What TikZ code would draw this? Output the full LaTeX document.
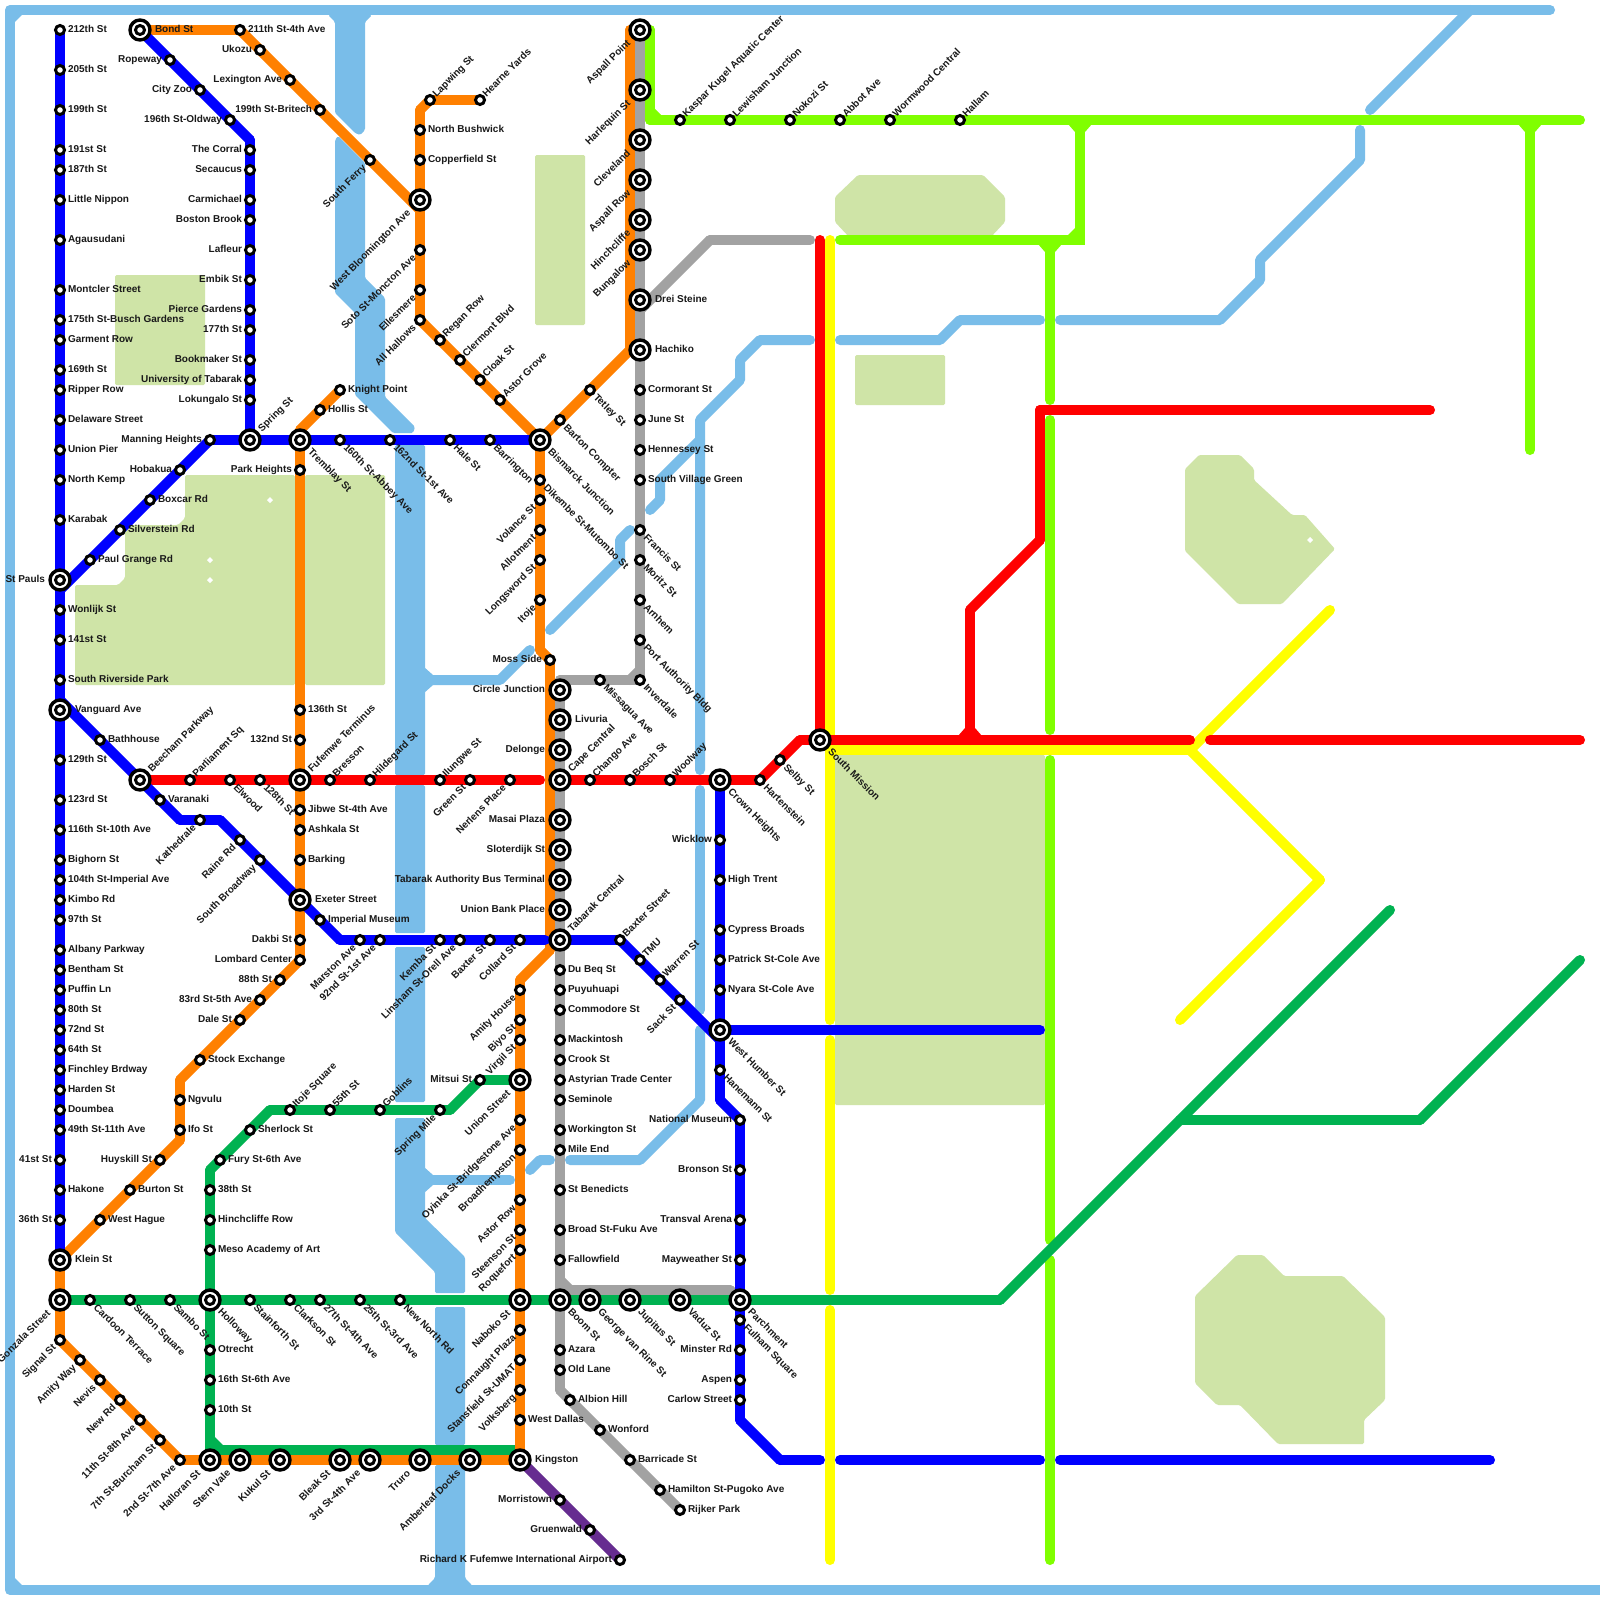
\documentclass[tikz,border=0pt]{standalone}
\usepackage{fontspec}
\setmainfont{Liberation Sans}
\usetikzlibrary{backgrounds}
\pgfdeclarelayer{bg}\pgfdeclarelayer{ln}
\pgfsetlayers{bg,ln,main}
\definecolor{cblue}{HTML}{0000FF}
\definecolor{corange}{HTML}{FF8000}
\definecolor{cred}{HTML}{FF0000}
\definecolor{cyellow}{HTML}{FFFF00}
\definecolor{cgreen}{HTML}{00B251}
\definecolor{clime}{HTML}{80FF00}
\definecolor{cgray}{HTML}{A2A2A2}
\definecolor{cpurple}{HTML}{662C90}
\definecolor{cwater}{HTML}{79BDE9}
\definecolor{cpark}{HTML}{CFE4A7}
\tikzset{
 x=1pt,y=-1pt,
 route/.style={line width=10pt,line cap=round,line join=round},
 stnode/.style={circle,draw=black,fill=white,line width=3pt,minimum size=9pt,inner sep=0pt,outer sep=0pt},
 icnode/.style={circle,draw=black,fill=white,line width=3.4pt,minimum size=20pt,inner sep=0pt,outer sep=0pt},
 lbl/.style={inner sep=0pt,outer sep=0pt,font=\fontsize{10}{11}\selectfont\bfseries,text=black!90},
 pR/.style={xshift=8pt,yshift=-2.2pt,anchor=base west},
 pL/.style={xshift=-8pt,yshift=-2.2pt,anchor=base east},
 pU/.style={xshift=6.5pt,yshift=2.5pt,rotate=45,anchor=base west},
 pD/.style={xshift=3pt,yshift=-8pt,rotate=-45,anchor=base west},
 pB/.style={xshift=-3.5pt,yshift=-8.5pt,rotate=45,anchor=base east},
 iR/.style={xshift=15pt,yshift=-2.2pt,anchor=base west},
 iL/.style={xshift=-15pt,yshift=-2.2pt,anchor=base east},
 iU/.style={xshift=12pt,yshift=7.5pt,rotate=45,anchor=base west},
 iD/.style={xshift=7.5pt,yshift=-12.5pt,rotate=-45,anchor=base west},
 iB/.style={xshift=-9pt,yshift=-14pt,rotate=45,anchor=base east},
 parkfill/.style={fill=cpark,rounded corners=1.5pt},
 waterfill/.style={fill=cwater,rounded corners=1.5pt},
 waterline/.style={route,draw=cwater}
}
\newcommand\stn[5]{\node[stnode] (#1) at (#2,#3) {};\node[lbl,#4] (#1-t) at (#1.center) {#5};}
\newcommand\icn[5]{\node[icnode] (#1) at (#2,#3) {};\node[stnode] (#1-c) at (#1.center) {};\node[lbl,#4] (#1-t) at (#1.center) {#5};}
\newcommand\kk[3]{\coordinate (#1) at (#2,#3);}
\newcommand\chain[2]{\begin{pgfonlayer}{ln}\foreach \cu [remember=\cu as \cv (initially {})] in {#2}{\ifx\cv\empty\else\draw[route,draw=#1] (\cv.center) -- (\cu.center);\fi}\end{pgfonlayer}}
\begin{document}
\begin{tikzpicture}
\useasboundingbox (0,0) rectangle (1600,1600);
% ---------- stations: left blue
\stn{a1}{60}{30}{pR}{212th St}\stn{a2}{60}{70}{pR}{205th St}\stn{a3}{60}{110}{pR}{199th St}\stn{a4}{60}{150}{pR}{191st St}\stn{a5}{60}{170}{pR}{187th St}\stn{a6}{60}{200}{pR}{Little Nippon}\stn{a7}{60}{240}{pR}{Agausudani}\stn{a8}{60}{290}{pR}{Montcler Street}\stn{a9}{60}{320}{pR}{175th St-Busch Gardens}\stn{a10}{60}{340}{pR}{Garment Row}\stn{a11}{60}{370}{pR}{169th St}\stn{a12}{60}{390}{pR}{Ripper Row}\stn{a13}{60}{420}{pR}{Delaware Street}\stn{a14}{60}{450}{pR}{Union Pier}\stn{a15}{60}{480}{pR}{North Kemp}\stn{a16}{60}{520}{pR}{Karabak}
\icn{pauls}{60}{580}{iL}{St Pauls}
\stn{a18}{60}{610}{pR}{Wonlijk St}\stn{a19}{60}{640}{pR}{141st St}\stn{a20}{60}{680}{pR}{South Riverside Park}
\icn{vang}{60}{710}{iR}{Vanguard Ave}
\stn{a22}{60}{760}{pR}{129th St}\stn{a23}{60}{800}{pR}{123rd St}\stn{a24}{60}{830}{pR}{116th St-10th Ave}\stn{a25}{60}{860}{pR}{Bighorn St}\stn{a26}{60}{880}{pR}{104th St-Imperial Ave}\stn{a27}{60}{900}{pR}{Kimbo Rd}\stn{a28}{60}{920}{pR}{97th St}\stn{a29}{60}{950}{pR}{Albany Parkway}\stn{a30}{60}{970}{pR}{Bentham St}\stn{a31}{60}{990}{pR}{Puffin Ln}\stn{a32}{60}{1010}{pR}{80th St}\stn{a33}{60}{1030}{pR}{72nd St}\stn{a34}{60}{1050}{pR}{64th St}\stn{a35}{60}{1070}{pR}{Finchley Brdway}\stn{a36}{60}{1090}{pR}{Harden St}\stn{a37}{60}{1110}{pR}{Doumbea}\stn{a38}{60}{1130}{pR}{49th St-11th Ave}\stn{a39}{60}{1160}{pL}{41st St}\stn{a40}{60}{1190}{pR}{Hakone}\stn{a41}{60}{1220}{pL}{36th St}
\icn{klein}{60}{1260}{iR}{Klein St}
% blue 2
\icn{bond}{140}{30}{iR}{Bond St}
\stn{b1}{170}{60}{pL}{Ropeway}\stn{b2}{200}{90}{pL}{City Zoo}\stn{b3}{230}{120}{pL}{196th St-Oldway}
\stn{b4}{250}{150}{pL}{The Corral}\stn{b5}{250}{170}{pL}{Secaucus}\stn{b6}{250}{200}{pL}{Carmichael}\stn{b7}{250}{220}{pL}{Boston Brook}\stn{b8}{250}{250}{pL}{Lafleur}\stn{b9}{250}{280}{pL}{Embik St}\stn{b10}{250}{310}{pL}{Pierce Gardens}\stn{b11}{250}{330}{pL}{177th St}\stn{b12}{250}{360}{pL}{Bookmaker St}\stn{b13}{250}{380}{pL}{University of Tabarak}\stn{b14}{250}{400}{pL}{Lokungalo St}
\icn{spring}{250}{440}{iU}{Spring St}
% blue 3
\stn{c1}{90}{560}{pR}{Paul Grange Rd}\stn{c2}{120}{530}{pR}{Silverstein Rd}\stn{c3}{150}{500}{pR}{Boxcar Rd}\stn{c4}{180}{470}{pL}{Hobakua}\stn{c5}{210}{440}{pL}{Manning Heights}
\icn{trem}{300}{440}{iD}{Tremblay St}
\stn{c6}{340}{440}{pD}{160th St-Abbey Ave}\stn{c7}{390}{440}{pD}{162nd St-1st Ave}\stn{c8}{450}{440}{pD}{Hale St}\stn{c9}{490}{440}{pD}{Barrington}
\icn{bism}{540}{440}{iD}{Bismarck Junction}
% blue 4
\stn{d1}{100}{740}{pR}{Bathhouse}
\icn{beech}{140}{780}{iU}{Beecham Parkway}
\stn{d2}{160}{800}{pR}{Varanaki}\stn{d3}{200}{820}{pB}{Kathedrale}\stn{d4}{240}{840}{pB}{Raine Rd}\stn{d5}{260}{860}{pB}{South Broadway}
\icn{exeter}{300}{900}{iR}{Exeter Street}
\stn{d6}{320}{920}{pR}{Imperial Museum}\stn{d7}{360}{940}{pB}{Marston Ave}\stn{d8}{380}{940}{pB}{92nd St-1st Ave}\stn{d9}{440}{940}{pB}{Kemba St}\stn{d10}{460}{940}{pB}{Linsham St-Orell Ave}\stn{d11}{490}{940}{pB}{Baxter St}\stn{d12}{520}{940}{pB}{Collard St}
\icn{tabc}{560}{940}{iU}{Tabarak Central}
\stn{e1}{620}{940}{pU}{Baxter Street}\stn{e2}{640}{960}{pU}{TMU}\stn{e3}{660}{980}{pU}{Warren St}\stn{e4}{680}{1000}{pB}{Sack St}
\icn{humber}{720}{1030}{iD}{West Humber St}
% blue 5
\icn{crown}{720}{780}{iD}{Crown Heights}
\stn{f1}{720}{840}{pL}{Wicklow}\stn{f2}{720}{880}{pR}{High Trent}\stn{f3}{720}{930}{pR}{Cypress Broads}\stn{f4}{720}{960}{pR}{Patrick St-Cole Ave}\stn{f5}{720}{990}{pR}{Nyara St-Cole Ave}\stn{f6}{720}{1070}{pD}{Hanemann St}
\stn{f7}{740}{1120}{pL}{National Museum}\stn{f8}{740}{1170}{pL}{Bronson St}\stn{f9}{740}{1220}{pL}{Transval Arena}\stn{f10}{740}{1260}{pL}{Mayweather St}
\icn{parch}{740}{1300}{iD}{Parchment}
\stn{f11}{740}{1320}{pD}{Fulham Square}\stn{f12}{740}{1350}{pL}{Minster Rd}\stn{f13}{740}{1380}{pL}{Aspen}\stn{f14}{740}{1400}{pL}{Carlow Street}
% orange upper
\stn{g1}{240}{30}{pR}{211th St-4th Ave}\stn{g2}{260}{50}{pL}{Ukozu}\stn{g3}{290}{80}{pL}{Lexington Ave}\stn{g4}{320}{110}{pL}{199th St-Britech}\stn{g5}{370}{160}{pB}{South Ferry}
\icn{wblo}{420}{200}{iB}{West Bloomington Ave}
\stn{g6}{430}{100}{pU}{Lapwing St}\stn{g7}{480}{100}{pU}{Hearne Yards}\stn{g8}{420}{130}{pR}{North Bushwick}\stn{g9}{420}{160}{pR}{Copperfield St}\stn{g10}{420}{250}{pB}{Soto St-Moncton Ave}\stn{g11}{420}{290}{pB}{Ellesmere}\stn{g12}{420}{320}{pB}{All Hallows}\stn{g13}{440}{340}{pU}{Regan Row}\stn{g14}{460}{360}{pU}{Clermont Blvd}\stn{g15}{480}{380}{pU}{Cloak St}\stn{g16}{500}{400}{pU}{Astor Grove}
\stn{h1}{560}{420}{pD}{Barton Compter}\stn{h2}{590}{390}{pD}{Tetley St}
\icn{aspp}{640}{30}{iB}{Aspall Point}\icn{harl}{640}{90}{iB}{Harlequin St}\icn{clev}{640}{140}{iB}{Cleveland}\icn{aspr}{640}{180}{iB}{Aspall Row}\icn{hinc}{640}{220}{iB}{Hinchcliffe}\icn{bung}{640}{250}{iB}{Bungalow}\icn{drei}{640}{300}{iR}{Drei Steine}\icn{hach}{640}{350}{iR}{Hachiko}
\stn{h3}{640}{390}{pR}{Cormorant St}\stn{h4}{640}{420}{pR}{June St}\stn{h5}{640}{450}{pR}{Hennessey St}\stn{h6}{640}{480}{pR}{South Village Green}\stn{h7}{640}{530}{pD}{Francis St}\stn{h8}{640}{560}{pD}{Moritz St}\stn{h9}{640}{600}{pD}{Arnhem}\stn{h10}{640}{640}{pD}{Port Authority Bldg}\stn{h11}{640}{680}{pD}{Inverdale}\stn{h12}{600}{680}{pD}{Missagua Ave}
% centre column
\stn{i1}{540}{480}{pD}{Dikembe St-Mutombo St}\stn{i2}{540}{500}{pB}{Volance St}\stn{i3}{540}{530}{pB}{Allotment}\stn{i4}{540}{560}{pB}{Longsword St}\stn{i5}{540}{600}{pB}{Itoje}\stn{i6}{550}{660}{pL}{Moss Side}
\icn{circ}{560}{690}{iL}{Circle Junction}\icn{livu}{560}{720}{iR}{Livuria}\icn{delo}{560}{750}{iL}{Delonge}\icn{cape}{560}{780}{iU}{Cape Central}\icn{masa}{560}{820}{iL}{Masai Plaza}\icn{slot}{560}{850}{iL}{Sloterdijk St}\icn{tbus}{560}{880}{iL}{Tabarak Authority Bus Terminal}\icn{ubp}{560}{910}{iL}{Union Bank Place}
\stn{j1}{560}{970}{pR}{Du Beq St}\stn{j2}{560}{990}{pR}{Puyuhuapi}\stn{j3}{560}{1010}{pR}{Commodore St}\stn{j4}{560}{1040}{pR}{Mackintosh}\stn{j5}{560}{1060}{pR}{Crook St}\stn{j6}{560}{1080}{pR}{Astyrian Trade Center}\stn{j7}{560}{1100}{pR}{Seminole}\stn{j8}{560}{1130}{pR}{Workington St}\stn{j9}{560}{1150}{pR}{Mile End}\stn{j10}{560}{1190}{pR}{St Benedicts}\stn{j11}{560}{1230}{pR}{Broad St-Fuku Ave}\stn{j12}{560}{1260}{pR}{Fallowfield}
\icn{boom}{560}{1300}{iD}{Boom St}
\stn{j13}{560}{1350}{pR}{Azara}\stn{j14}{560}{1370}{pR}{Old Lane}\stn{j15}{570}{1400}{pR}{Albion Hill}\stn{j16}{600}{1430}{pR}{Wonford}\stn{j17}{630}{1460}{pR}{Barricade St}\stn{j18}{660}{1490}{pR}{Hamilton St-Pugoko Ave}\stn{j19}{680}{1510}{pR}{Rijker Park}
\icn{gvr}{590}{1300}{iD}{George van Rine St}\icn{jupi}{630}{1300}{iD}{Jupitus St}\icn{vadu}{680}{1300}{iD}{Vaduz St}
% orange lower centre
\stn{l1}{520}{990}{pB}{Amity House}\stn{l2}{520}{1020}{pB}{Biyo St}\stn{l3}{520}{1040}{pB}{Virgil St}
\icn{unis}{520}{1080}{iB}{Union Street}
\stn{l4}{520}{1120}{pB}{Oyinka St-Bridgestone Ave}\stn{l5}{520}{1150}{pB}{Broadhempston}\stn{l6}{520}{1200}{pB}{Astor Row}\stn{l7}{520}{1230}{pB}{Steenson St}\stn{l8}{520}{1250}{pB}{Roquefort}
\icn{nabo}{520}{1300}{iB}{Naboko St}
\stn{l9}{520}{1330}{pB}{Connaught Plaza}\stn{l10}{520}{1360}{pB}{Stansfield St-UMAT}\stn{l11}{520}{1390}{pB}{Volksberg}\stn{l12}{520}{1420}{pR}{West Dallas}
\icn{king}{520}{1460}{iR}{Kingston}
\stn{m1}{560}{1500}{pL}{Morristown}\stn{m2}{590}{1530}{pL}{Gruenwald}\stn{m3}{620}{1560}{pL}{Richard K Fufemwe International Airport}
% orange vertical 300
\stn{n1}{320}{410}{pR}{Hollis St}\stn{n2}{340}{390}{pR}{Knight Point}\stn{n3}{300}{470}{pL}{Park Heights}\stn{n4}{300}{710}{pR}{136th St}\stn{n5}{300}{740}{pL}{132nd St}
\icn{fufe}{300}{780}{iU}{Fufemwe Terminus}
\stn{n6}{300}{810}{pR}{Jibwe St-4th Ave}\stn{n7}{300}{830}{pR}{Ashkala St}\stn{n8}{300}{860}{pR}{Barking}\stn{n9}{300}{940}{pL}{Dakbi St}\stn{n10}{300}{960}{pL}{Lombard Center}\stn{n11}{280}{980}{pL}{88th St}\stn{n12}{260}{1000}{pL}{83rd St-5th Ave}\stn{n13}{240}{1020}{pL}{Dale St}\stn{n14}{200}{1060}{pR}{Stock Exchange}\stn{n15}{180}{1100}{pR}{Ngvulu}\stn{n16}{180}{1130}{pR}{Ifo St}\stn{n17}{160}{1160}{pL}{Huyskill St}\stn{n18}{130}{1190}{pR}{Burton St}\stn{n19}{100}{1220}{pR}{West Hague}
\icn{gonz}{60}{1300}{iB}{Gonzala Street}
\stn{o1}{60}{1340}{pB}{Signal St}\stn{o2}{80}{1360}{pB}{Amity Way}\stn{o3}{100}{1380}{pB}{Nevis}\stn{o4}{120}{1400}{pB}{New Rd}\stn{o5}{140}{1420}{pB}{11th St-8th Ave}\stn{o6}{160}{1440}{pB}{7th St-Burcham St}\stn{o7}{180}{1460}{pB}{2nd St-7th Ave}
\icn{hall}{210}{1460}{iB}{Halloran St}\icn{ster}{240}{1460}{iB}{Stern Vale}\icn{kuku}{280}{1460}{iB}{Kukul St}\icn{blea}{340}{1460}{iB}{Bleak St}\icn{thrd}{370}{1460}{iB}{3rd St-4th Ave}\icn{trur}{420}{1460}{iB}{Truro}\icn{ambe}{470}{1460}{iB}{Amberleaf Docks}
% red
\stn{r1}{190}{780}{pU}{Parliament Sq}\stn{r2}{230}{780}{pD}{Elwood}\stn{r3}{260}{780}{pD}{128th St}\stn{r4}{330}{780}{pU}{Bresson}\stn{r5}{370}{780}{pU}{Hildegard St}\stn{r6}{440}{780}{pU}{Ilungwe St}\stn{r7}{470}{780}{pB}{Green St}\stn{r8}{510}{780}{pB}{Nerlens Place}\stn{r9}{590}{780}{pU}{Chango Ave}\stn{r10}{630}{780}{pU}{Bosch St}\stn{r11}{670}{780}{pU}{Woolway}\stn{r12}{760}{780}{pD}{Hartenstein}\stn{r13}{780}{760}{pD}{Selby St}
\icn{smis}{820}{740}{iD}{South Mission}
% green
\stn{s1}{90}{1300}{pD}{Cardoon Terrace}\stn{s2}{130}{1300}{pD}{Sutton Square}\stn{s3}{170}{1300}{pD}{Sambo St}
\icn{holl}{210}{1300}{iD}{Holloway}
\stn{s4}{250}{1300}{pD}{Stainforth St}\stn{s5}{290}{1300}{pD}{Clarkson St}\stn{s6}{320}{1300}{pD}{27th St-4th Ave}\stn{s7}{360}{1300}{pD}{25th St-3rd Ave}\stn{s8}{400}{1300}{pD}{New North Rd}
\stn{u1}{210}{1350}{pR}{Otrecht}\stn{u2}{210}{1380}{pR}{16th St-6th Ave}\stn{u3}{210}{1410}{pR}{10th St}
\stn{u4}{210}{1250}{pR}{Meso Academy of Art}\stn{u5}{210}{1220}{pR}{Hinchcliffe Row}\stn{u6}{210}{1190}{pR}{38th St}\stn{u7}{220}{1160}{pR}{Fury St-6th Ave}\stn{u8}{250}{1130}{pR}{Sherlock St}\stn{u9}{290}{1110}{pU}{Itoje Square}\stn{u10}{330}{1110}{pU}{55th St}\stn{u11}{380}{1110}{pU}{Goblins}\stn{u12}{440}{1110}{pB}{Spring Mile}\stn{u13}{480}{1080}{pL}{Mitsui St}
% lime
\stn{v1}{680}{120}{pU}{Kaspar Kugel Aquatic Center}\stn{v2}{730}{120}{pU}{Lewisham Junction}\stn{v3}{790}{120}{pU}{Nokozi St}\stn{v4}{840}{120}{pU}{Abbot Ave}\stn{v5}{890}{120}{pU}{Wormwood Central}\stn{v6}{960}{120}{pU}{Hallam}
% ---------- bends and free ends
\kk{ka1}{250}{140}\kk{ka2}{180}{820}\kk{ka3}{220}{820}\kk{ka4}{340}{940}\kk{ka5}{545}{940}
\kk{kz1}{60}{590}\kk{kz2}{60}{700}\kk{kz3}{420}{210}\kk{kz4}{720}{1040}
\kk{kb1}{720}{1100}\kk{kb2}{740}{1420}\kk{kb3}{780}{1460}\kk{kb4}{820}{1460}\kk{kb5}{840}{1460}\kk{kb6}{1040}{1460}\kk{kb7}{1060}{1460}\kk{kb8}{1490}{1460}\kk{kb9}{1040}{1030}
\kk{kc1}{420}{110}\kk{kc2}{630}{350}\kk{kc3}{630}{30}\kk{kc4}{540}{650}\kk{kc5}{550}{950}\kk{kc6}{520}{980}\kk{kc7}{300}{430}\kk{kc8}{180}{1080}\kk{kc9}{180}{1140}
\kk{kd1}{640}{310}\kk{kd2}{710}{240}\kk{kd3}{810}{240}\kk{kd4}{560}{680}\kk{kd5}{560}{1280}\kk{kd6}{570}{1290}\kk{kd7}{730}{1290}\kk{kd8}{560}{1390}\kk{kd9}{640}{670}\kk{kd10}{630}{680}
\kk{ke1}{540}{780}\kk{ke2}{800}{740}\kk{ke3}{1190}{740}\kk{ke4}{1210}{740}\kk{ke5}{1580}{740}\kk{ke6}{820}{240}\kk{ke7}{970}{740}\kk{ke8}{970}{610}\kk{ke9}{1040}{540}\kk{ke10}{1040}{410}\kk{ke11}{1430}{410}
\kk{kf1}{830}{240}\kk{kf2}{830}{1020}\kk{kf3}{830}{1040}\kk{kf4}{830}{1290}\kk{kf5}{830}{1310}\kk{kf6}{830}{1560}\kk{kf7}{830}{750}\kk{kf8}{1190}{750}\kk{kf9}{1330}{610}\kk{kf10}{1320}{880}\kk{kf11}{1180}{1020}
\kk{kg1}{1000}{1300}\kk{kg2}{1180}{1120}\kk{kg3}{1420}{1120}\kk{kg4}{1580}{960}\kk{kg5}{1390}{910}\kk{kg6}{210}{1170}\kk{kg7}{270}{1110}\kk{kg8}{450}{1110}\kk{kg9}{210}{1450}\kk{kg10}{515}{1450}
\kk{kh1}{650}{30}\kk{kh2}{650}{120}\kk{kh3}{1580}{120}\kk{kh4}{1080}{120}\kk{kh5}{1080}{240}\kk{kh6}{840}{240}\kk{kh7}{1050}{240}\kk{kh8}{1050}{400}\kk{kh9}{1050}{420}\kk{kh10}{1050}{730}\kk{kh11}{1050}{760}\kk{kh12}{1050}{1240}\kk{kh13}{1050}{1260}\kk{kh14}{1050}{1560}\kk{kh15}{1530}{120}\kk{kh16}{1530}{450}
% ---------- parks and water
\begin{pgfonlayer}{bg}
\fill[white] (0,0) rectangle (1600,1600);
\fill[parkfill] (115,275) rectangle (205,385);
\fill[parkfill] (185,475)--(295,475)--(295,685)--(75,685)--(75,585)--(118,585)--(125,578)--(125,525)--(178,525)--(185,518)--cycle;
\fill[parkfill] (305,475) rectangle (385,685);
\fill[parkfill] (535,155) rectangle (585,325);
\fill[parkfill] (835,197)--(858,175)--(983,175)--(1005,197)--(1005,222)--(990,238)--(850,238)--(835,222)--cycle;
\fill[parkfill] (855,355) rectangle (945,405);
\fill[parkfill] (835,755) rectangle (1045,1105);
\fill[parkfill] (1185,469)--(1199,455)--(1240,455)--(1254,469)--(1254,480)--(1292,515)--(1305,515)--(1335,549)--(1282,604)--(1238,604)--(1185,551)--cycle;
\fill[parkfill] (1195,1296)--(1237,1255)--(1263,1255)--(1284,1276)--(1343,1276)--(1385,1317)--(1385,1400)--(1364,1420)--(1364,1444)--(1278,1444)--(1240,1405)--(1217,1405)--(1195,1383)--cycle;
\foreach \px/\py in {270/500,210/560,210/580,1310/540}{\fill[white] (\px-3,\py)--(\px,\py-3)--(\px+3,\py)--(\px,\py+3)--cycle;}
% frame
\draw[waterline] (1550,10)--(10,10)--(10,1590)--(1605,1590);
\fill[cwater] (15,15)--(22,15)--(15,22)--cycle (15,1585)--(22,1585)--(15,1578)--cycle;
% river
\fill[waterfill] (328,15)--(335,22)--(335,113)--(355,133)--(360,135)--(365,130)--(365,22)--(372,15)--cycle;
\fill[waterfill] (338,136)--(365,163)--(365,278)--(385,298)--(385,397)--(415,427)--(413,433)--(393,433)--(355,395)--(355,313)--(335,293)--(335,140)--cycle;
\fill[waterfill] (395,445) rectangle (425,775);
\fill[waterfill] (395,785) rectangle (425,933);
\fill[waterfill] (395,947) rectangle (425,1102);
\fill[waterfill] (395,1118)--(425,1118)--(425,1218)--(465,1257)--(465,1293)--(435,1293)--(435,1272)--(395,1232)--cycle;
\fill[waterfill] (435,1307) rectangle (465,1445);
\fill[waterfill] (435,1465)--(465,1465)--(465,1578)--(472,1585)--(472,1592)--(428,1592)--(428,1585)--(435,1578)--cycle;
\fill[cwater] (424,667)--(433,675)--(433,685)--(424,693)--cycle;
\fill[cwater] (424,1167)--(433,1175)--(433,1185)--(424,1193)--cycle;
\draw[waterline] (420,680)--(500,680)--(530,650);
\draw[waterline] (420,1180)--(510,1180);
\draw[waterline] (530,1170)--(540,1160)--(550,1160);
\draw[waterline] (570,1160)--(640,1160)--(700,1100)--(700,1030);
\draw[waterline] (700,1010)--(700,790);
\draw[waterline] (700,770)--(700,420)--(740,380)--(740,360)--(760,340)--(810,340);
\draw[waterline] (700,440)--(660,480)--(660,500)--(650,510);
\draw[waterline] (630,530)--(620,540)--(620,560)--(550,630);
\draw[waterline] (840,340)--(940,340)--(960,320)--(1040,320);
\draw[waterline] (1060,320)--(1220,320)--(1260,280)--(1260,260)--(1360,160)--(1360,130);
\draw[waterline] (1370,110)--(1470,10);
\end{pgfonlayer}
% ---------- routes
\chain{cgray}{aspp,harl,clev,aspr,hinc,bung,drei,hach,h3,h4,h5,h6,h7,h8,h9,h10,h11,h12,kd4}
\chain{cgray}{kd9,kd10}
\chain{cgray}{kd1,kd2,kd3}
\chain{cgray}{kd4,circ,livu,delo,cape,masa,slot,tbus,ubp,tabc,j1,j2,j3,j4,j5,j6,j7,j8,j9,j10,j11,j12,boom,j13,j14,kd8,j15,j16,j17,j18,j19}
\chain{cgray}{kd5,kd6,kd7,parch}
\chain{cgreen}{hall,kg9,kg10}
\chain{corange}{bond,g1,g2,g3,g4,g5,kz3,wblo}
\chain{corange}{g7,g6,kc1,g8,g9,wblo,g10,g11,g12,g13,g14,g15,g16,bism}
\chain{corange}{bism,h1,h2,kc2,kc3,aspp}
\chain{corange}{bism,i1,i2,i3,i4,i5,kc4,i6,kc5,kc6,l1,l2,l3,unis,l4,l5,l6,l7,l8,nabo,l9,l10,l11,l12,king}
\chain{corange}{n2,n1,kc7,trem,n3,n4,n5,fufe,n6,n7,n8,exeter,n9,n10,n11,n12,n13,n14,kc8,n15,n16,kc9,n17,n18,n19,klein,gonz,o1,o2,o3,o4,o5,o6,o7,hall,ster,kuku,blea,thrd,trur,ambe,king}
\chain{cpurple}{king,m1,m2,m3}
\chain{clime}{aspp,kh1,kh2,v1,v2,v3,v4,v5,v6,kh3}
\chain{clime}{kh4,kh5,kh6}
\chain{clime}{kh7,kh8}\chain{clime}{kh9,kh10}\chain{clime}{kh11,kh12}\chain{clime}{kh13,kh14}
\chain{clime}{kh15,kh16}
\chain{cyellow}{kf1,kf2}\chain{cyellow}{kf3,kf4}\chain{cyellow}{kf5,kf6}
\chain{cyellow}{kf7,kf8,kf9}\chain{cyellow}{kf8,kf10,kf11}
\chain{cred}{beech,r1,r2,r3,fufe,r4,r5,r6,r7,r8,ke1}
\chain{cred}{cape,r9,r10,r11,crown,r12,r13,ke2,smis,ke3}
\chain{cred}{ke4,ke5}\chain{cred}{smis,ke6}
\chain{cred}{ke7,ke8,ke9,ke10,ke11}
\chain{cblue}{a1,a2,a3,a4,a5,a6,a7,a8,a9,a10,a11,a12,a13,a14,a15,a16,pauls,a18,a19,a20,vang,a22,a23,a24,a25,a26,a27,a28,a29,a30,a31,a32,a33,a34,a35,a36,a37,a38,a39,a40,a41,klein}
\chain{cblue}{bond,b1,b2,b3,ka1,b4,b5,b6,b7,b8,b9,b10,b11,b12,b13,b14,spring}
\chain{cblue}{kz1,c1,c2,c3,c4,c5,spring,trem,c6,c7,c8,c9,bism}
\chain{cblue}{kz2,d1,beech,d2,ka2,d3,ka3,d4,d5,exeter,d6,ka4,d7,d8,d9,d10,d11,d12,ka5}
\chain{cblue}{tabc,e1,e2,e3,e4,kz4}
\chain{cblue}{humber,kb9}
\chain{cblue}{crown,f1,f2,f3,f4,f5,humber,f6,kb1,f7,f8,f9,f10,parch,f11,f12,f13,f14,kb2,kb3,kb4}
\chain{cblue}{kb5,kb6}\chain{cblue}{kb7,kb8}
\chain{cgreen}{gonz,s1,s2,s3,holl,s4,s5,s6,s7,s8,nabo,boom,gvr,jupi,vadu,parch,kg1,kg2,kg3,kg4}
\chain{cgreen}{kg2,kg5}
\chain{cgreen}{holl,u1,u2,u3,hall}
\chain{cgreen}{holl,u4,u5,u6,kg6,u7,u8,kg7,u9,u10,u11,u12,kg8,u13,unis}
\begin{pgfonlayer}{ln}
\fill[clime] (1068,124)--(1075,132)--(1085,132)--(1092,124)--cycle;
\fill[clime] (1518,124)--(1525,132)--(1535,132)--(1542,124)--cycle;
\fill[clime] (1038,244)--(1045,252)--(1055,252)--(1062,244)--cycle;
\fill[clime] (1067,236)--(1076,236)--(1076,227)--cycle;
\fill[clime] (654,108)--(654,116)--(662,116)--cycle;
\fill[clime] (1075,235) rectangle (1085,245);
\fill[cred] (958,736)--(965,728)--(975,728)--(982,736)--cycle;
\fill[cgreen] (214,1436)--(214,1446)--(224,1446)--cycle;
\end{pgfonlayer}
\end{tikzpicture}
\end{document}
